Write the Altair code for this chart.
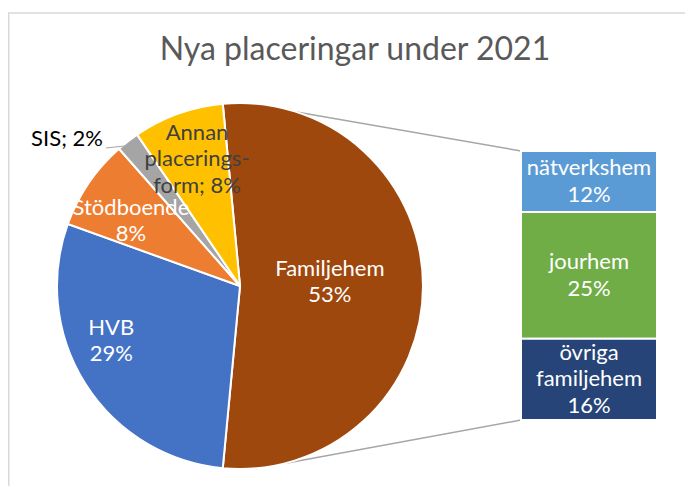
import math
import altair as alt
import pandas as pd

# ---------------- data ----------------
categories = ["Familjehem", "HVB", "Stödboende", "SIS", "Annan placeringsform"]
values = [53, 29, 8, 2, 8]
label_text = ["Familjehem\n53%", "HVB\n29%", "Stödboende\n8%", "SIS; 2%", "Annan\nplacerings-\nform; 8%"]
pie_colors = ["#9E480E", "#4472C4", "#ED7D31", "#A5A5A5", "#FFC000"]

sub_categories = ["nätverkshem", "jourhem", "övriga familjehem"]
sub_values = [12, 25, 16]
sub_text = ["nätverkshem\n12%", "jourhem\n25%", "övriga\nfamiljehem\n16%"]
sub_colors = ["#5B9BD5", "#70AD47", "#264478"]

title_text = "Nya placeringar under 2021"

# ---------------- layout / style ----------------
FONT = "Lato"
FS = 22
LH = 26.5
W, H = 677, 478
CX, CY, R = 232, 278, 183
BAR_X0, BAR_X1, BAR_Y0, BAR_Y1 = 513, 649, 143, 412
# label placement per slice: (angle offset deg, radius px, colour)
label_style = {
    "Familjehem": (-2.5, 90, "white"),
    "HVB": (9.3, 140, "white"),
    "Stödboende": (-3.4, 127, "white"),
    "SIS": (-5.2, 201, "black"),
    "Annan placeringsform": (1.1, 134, "#404040"),
}

total = sum(values)
start = math.pi / 2 - math.pi * values[0] / total  # split slice centred at 3 o'clock

pie_df = pd.DataFrame({"cat": categories, "value": values, "idx": range(len(values)),
                       "color": pie_colors})

cum = 0
rows = []
for c, v, t in zip(categories, values, label_text):
    mid = start + 2 * math.pi * (cum + v / 2) / total
    cum += v
    dth, r, col = label_style[c]
    rows.append({"cat": c, "text": t, "ang": mid + math.radians(dth), "r": r, "tcolor": col,
                 "mid": mid, "nlines": t.count("\n") + 1})
lab_df = pd.DataFrame(rows)

sub_total = sum(sub_values)
sc = 0
srows = []
for i, (c, v, t, col) in enumerate(zip(sub_categories, sub_values, sub_text, sub_colors)):
    srows.append({"cat": c, "value": v, "idx": i, "color": col, "text": t,
                  "y0": sc, "y1": sc + v, "mid": sc + v / 2, "nlines": t.count("\n") + 1})
    sc += v
sub_df = pd.DataFrame(srows)

theta_scale = alt.Scale(domain=[0, total], range=[start, start + 2 * math.pi])

pie = alt.Chart(pie_df).mark_arc(radius=R, stroke="white", strokeWidth=2).encode(
    theta=alt.Theta("value:Q", stack=True, scale=theta_scale),
    order=alt.Order("idx:Q"),
    color=alt.Color("color:N", scale=None),
    x=alt.value(CX), y=alt.value(CY),
)

layers_lab = []
for n in sorted(lab_df[lab_df.cat != "SIS"].nlines.unique()):
    sub = lab_df[(lab_df.cat != "SIS") & (lab_df.nlines == n)]
    layers_lab.append(alt.Chart(sub).mark_text(
        font=FONT, fontSize=FS, lineBreak="\n", lineHeight=LH, align="center",
        baseline="middle", dy=-(n - 1) * LH / 2
    ).encode(
        text="text:N",
        theta=alt.Theta("ang:Q", scale=None),
        radius=alt.Radius("r:Q", scale=None),
        color=alt.Color("tcolor:N", scale=None),
        x=alt.value(CX), y=alt.value(CY),
    ))

sis_label = alt.Chart(lab_df[lab_df.cat == "SIS"]).mark_text(
    font=FONT, fontSize=FS, align="right", baseline="middle"
).encode(
    text="text:N",
    theta=alt.Theta("ang:Q", scale=None),
    radius=alt.Radius("r:Q", scale=None),
    color=alt.Color("tcolor:N", scale=None),
    x=alt.value(CX), y=alt.value(CY),
)

# leader line for SIS
sis = lab_df[lab_df.cat == "SIS"].iloc[0]
lx = CX + sis.r * math.sin(sis.ang) + 3
ly = CY - sis.r * math.cos(sis.ang) + 9
ex = CX + (R - 5) * math.sin(sis.mid)
ey = CY - (R - 5) * math.cos(sis.mid)
one = pd.DataFrame({"a": [0]})
leader = alt.Chart(one).mark_rule(color="#A6A6A6", strokeWidth=1).encode(
    x=alt.value(lx), y=alt.value(ly), x2=alt.value(ex), y2=alt.value(ey))

y_scale = alt.Scale(domain=[0, sub_total], range=[BAR_Y0, BAR_Y1])
bars = alt.Chart(sub_df).mark_bar(stroke="white", strokeWidth=2).encode(
    x=alt.value(BAR_X0), x2=alt.value(BAR_X1),
    y=alt.Y("y0:Q", scale=y_scale, axis=None),
    y2="y1:Q",
    color=alt.Color("color:N", scale=None),
)
bar_label_layers = []
for n in sorted(sub_df.nlines.unique()):
    bar_label_layers.append(alt.Chart(sub_df[sub_df.nlines == n]).mark_text(
        font=FONT, fontSize=FS, lineBreak="\n", lineHeight=LH, color="white",
        baseline="middle", dy=-(n - 1) * LH / 2
    ).encode(
        x=alt.value((BAR_X0 + BAR_X1) / 2),
        y=alt.Y("mid:Q", scale=y_scale, axis=None),
        text="text:N",
    ))

# connector lines from the pie to the bar
fam_mid = lab_df.iloc[0].mid
a_top = fam_mid - math.radians(72)
a_bot = fam_mid + math.radians(76)
conn_top = alt.Chart(one).mark_rule(color="#A6A6A6", strokeWidth=1.5).encode(
    x=alt.value(CX + R * math.sin(a_top)), y=alt.value(CY - R * math.cos(a_top)),
    x2=alt.value(BAR_X0), y2=alt.value(BAR_Y0))
conn_bot = alt.Chart(one).mark_rule(color="#A6A6A6", strokeWidth=1.5).encode(
    x=alt.value(CX + R * math.sin(a_bot)), y=alt.value(CY - R * math.cos(a_bot)),
    x2=alt.value(BAR_X0), y2=alt.value(BAR_Y1))

# chart frame (top and left edges visible)
frame_top = alt.Chart(one).mark_rule(color="#D9D9D9", strokeWidth=1.5).encode(
    x=alt.value(0), x2=alt.value(W), y=alt.value(5))
frame_left = alt.Chart(one).mark_rule(color="#D9D9D9", strokeWidth=1.5).encode(
    x=alt.value(0.75), y=alt.value(5), y2=alt.value(H))

title = alt.Chart(pd.DataFrame({"t": [title_text]})).mark_text(
    font=FONT, fontSize=32, color="#595959", baseline="middle"
).encode(text="t:N", x=alt.value(347), y=alt.value(42))

chart = alt.layer(
    frame_top, frame_left, title, conn_top, conn_bot, pie, leader,
    *layers_lab, sis_label, bars, *bar_label_layers
).properties(
    width=W, height=H, padding=0, autosize=alt.AutoSizeParams(type="none")
).configure_view(stroke=None)

chart.save("out.html", embed_options={"renderer": "svg", "actions": False})
